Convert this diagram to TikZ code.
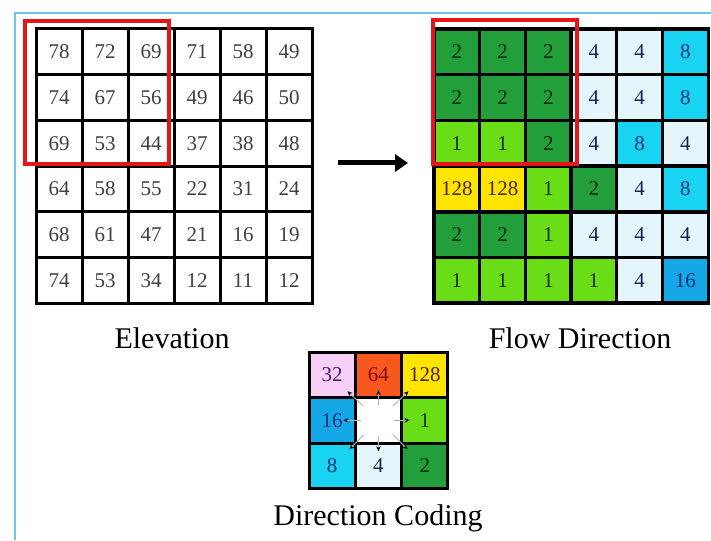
\documentclass[tikz,border=0pt]{standalone}
\usepackage{fontspec}
\setmainfont{Liberation Serif}
\usetikzlibrary{arrows.meta}

% cell colours of the flow direction codes
\definecolor{fd0}{RGB}{255,255,255}
\definecolor{fd1}{RGB}{105,222,22}
\definecolor{fd2}{RGB}{34,158,58}
\definecolor{fd4}{RGB}{228,246,252}
\definecolor{fd8}{RGB}{24,212,242}
\definecolor{fd16}{RGB}{22,168,230}
\definecolor{fd32}{RGB}{247,208,247}
\definecolor{fd64}{RGB}{246,88,30}
\definecolor{fd128}{RGB}{255,228,0}
% text colours of the codes
\definecolor{tx0}{RGB}{0,0,0}
\definecolor{tx1}{RGB}{22,45,5}
\definecolor{tx2}{RGB}{12,40,14}
\definecolor{tx4}{RGB}{18,35,80}
\definecolor{tx8}{RGB}{8,50,115}
\definecolor{tx16}{RGB}{8,48,125}
\definecolor{tx32}{RGB}{85,20,105}
\definecolor{tx64}{RGB}{135,15,15}
\definecolor{tx128}{RGB}{75,40,0}
\definecolor{framecyan}{RGB}{110,200,228}
\definecolor{boxred}{RGB}{228,22,22}

\tikzset{
  gridcell/.style={draw=black, line width=3pt, inner sep=0pt, anchor=center,
    minimum width=46pt, minimum height=45.7pt, font=\fontsize{21}{21}\selectfont},
  elevcell/.style={gridcell, text=black!75},
  flowcell/.style={gridcell, line width=3.5pt},
  codecell/.style={gridcell, minimum height=45.5pt},
  redbox/.style={draw=boxred, line width=3.5pt},
  frameline/.style={draw=framecyan, line width=1.5pt},
  biglabel/.style={inner sep=0pt, font=\fontsize{30}{30}\selectfont},
  codearrow/.style={draw=black!30, line width=0.8pt, -{Stealth[length=5pt,width=4.5pt,color=black,fill=black]}},
}

\begin{document}
\begin{tikzpicture}[x=1pt,y=1pt,yscale=-1]
\useasboundingbox[fill=white] (0,0) rectangle (711,540);

% outer frame
\draw[frameline] (15,540) -- (15,13) -- (711,13);

% Elevation grid
\foreach \row [count=\r] in {{78,72,69,71,58,49},{74,67,56,49,46,50},{69,53,44,37,38,48},
    {64,58,55,22,31,24},{68,61,47,21,16,19},{74,53,34,12,11,12}}
  \foreach \v [count=\c] in \row
    \node[elevcell] (e-\r-\c) at ({36+46*(\c-0.5)},{29+45.7*(\r-0.5)}) {\v};

% Flow Direction grid
\foreach \row [count=\r] in {{2,2,2,4,4,8},{2,2,2,4,4,8},{1,1,2,4,8,4},
    {128,128,1,2,4,8},{2,2,1,4,4,4},{1,1,1,1,4,16}}
  \foreach \v [count=\c] in \row
    \node[flowcell, fill=fd\v, text=tx\v] (f-\r-\c) at ({434+45.7*(\c-0.5)},{29+45.7*(\r-0.5)}) {\v};

% Direction Coding grid
\foreach \row [count=\r] in {{32,64,128},{16,0,1},{8,4,2}}
  \foreach \v [count=\c] in \row
    \node[codecell, fill=fd\v, text=tx\v] (c-\r-\c) at ({309+46.3*(\c-0.5)},{352+45.5*(\r-0.5)}) {\ifnum\v=0\else\v\fi};

% little arrows out of the centre cell
\foreach \dx/\dy in {0/-30,0/31,-35/0,31/0,-31/-29,30/-29,-29/29,29/29}
  \draw[codearrow] ([shift={(0.5*\dx,0.5*\dy)}]c-2-2.center) -- ([shift={(\dx,\dy)}]c-2-2.center);

% red windows
\draw[redbox] (25,21) rectangle (169,164);
\draw[redbox] (433,20) rectangle (577,164);

% arrow between the grids
\coordinate (arrowtail) at (338,163);
\coordinate (arrowhead) at (408,163);
\draw[line width=5pt, -{Triangle[length=13pt,width=17pt]}] (arrowtail) -- (arrowhead);

% labels
\node[biglabel] (elevlabel) at (172,338) {Elevation};
\node[biglabel] (flowlabel) at (580,338) {Flow Direction};
\node[biglabel] (codelabel) at (378,518) {Direction Coding};

\end{tikzpicture}
\end{document}
